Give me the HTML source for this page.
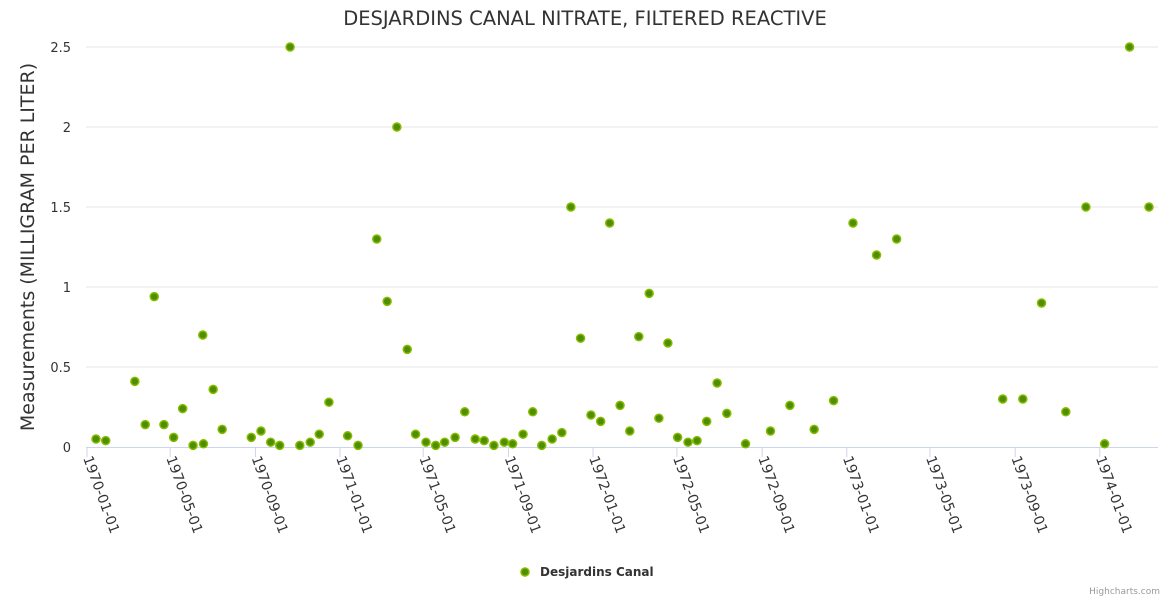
<!DOCTYPE html>
<html><head><meta charset="utf-8"><style>
body{margin:0;background:#fff;}
svg{display:block;font-family:"DejaVu Sans","Liberation Sans",sans-serif;}
</style></head><body>
<svg id="chart" width="1170" height="600" xmlns="http://www.w3.org/2000/svg">
<text x="585" y="25" text-anchor="middle" font-size="19.5" fill="#333">DESJARDINS CANAL NITRATE, FILTERED REACTIVE</text>
<text transform="translate(34,247) rotate(-90)" text-anchor="middle" font-size="19" fill="#333">Measurements (MILLIGRAM PER LITER)</text>
<g id="grid"></g><g id="xaxis"></g><g id="points"></g>
<g>
<circle cx="525" cy="572" r="4" fill="#4d8f00" stroke="#88bb00" stroke-width="1.5"/>
<text x="540" y="576" font-size="12" font-weight="bold" fill="#333">Desjardins Canal</text>
</g>
<text x="1160" y="594" text-anchor="end" font-size="9" fill="#999">Highcharts.com</text>
</svg>
<script>
const yTicks=[0,0.5,1,1.5,2,2.5];
const yTickLabels=["0","0.5","1","1.5","2","2.5"];
const xTickLabels=["1970-01-01","1970-05-01","1970-09-01","1971-01-01","1971-05-01","1971-09-01","1972-01-01","1972-05-01","1972-09-01","1973-01-01","1973-05-01","1973-09-01","1974-01-01"];
// days since 1970-01-01
const sampleDays=[13,27,69,84,97,111,125,138,153,167,168,182,195,237,251,265,278,293,307,322,335,349,376,391,418,433,447,462,474,489,503,516,531,545,560,573,587,602,614,629,643,656,671,685,698,712,727,741,754,769,783,796,811,825,838,852,867,880,894,909,923,950,986,1014,1049,1077,1105,1139,1168,1321,1350,1377,1412,1441,1468,1504,1532];
const values=[0.05,0.04,0.41,0.14,0.94,0.14,0.06,0.24,0.01,0.70,0.02,0.36,0.11,0.06,0.10,0.03,0.01,2.5,0.01,0.03,0.08,0.28,0.07,0.01,1.3,0.91,2.0,0.61,0.08,0.03,0.01,0.03,0.06,0.22,0.05,0.04,0.01,0.03,0.02,0.08,0.22,0.01,0.05,0.09,1.5,0.68,0.20,0.16,1.4,0.26,0.10,0.69,0.96,0.18,0.65,0.06,0.03,0.04,0.16,0.40,0.21,0.02,0.10,0.26,0.11,0.29,1.4,1.2,1.3,0.30,0.30,0.90,0.22,1.5,0.02,2.5,1.5];
const NS="http://www.w3.org/2000/svg";
const X0=87,X1=1158,D1=1545,Y0=447,Y1=47,VMAX=2.5;
const xs=d=>X0+(d/D1)*(X1-X0);
const ys=v=>Y0-(v/VMAX)*(Y0-Y1);
const dayOf=s=>Math.round((Date.parse(s+"T00:00:00Z"))/86400000);
function mk(t,a,p){const e=document.createElementNS(NS,t);for(const k in a)e.setAttribute(k,a[k]);p.appendChild(e);return e;}
const grid=document.getElementById('grid');
yTicks.forEach((v,i)=>{
  if(v>0){const l=mk('line',{x1:X0-1,x2:X1,y1:ys(v),y2:ys(v),stroke:'#e6e6e6','stroke-width':1},grid);
  
  }
  const t=mk('text',{x:71,y:ys(v)+5,'text-anchor':'end','font-size':13,fill:'#333'},grid);
  t.textContent=yTickLabels[i];
  
  
});
const xa=document.getElementById('xaxis');
const ax=mk('line',{x1:X0-1,x2:X1,y1:Y0+0.5,y2:Y0+0.5,stroke:'#ccd6eb','stroke-width':1},xa);


xTickLabels.forEach(s=>{
  const x=xs(dayOf(s));
  const tk=mk('line',{x1:x,x2:x,y1:Y0,y2:Y0+10,stroke:'#ccd6eb','stroke-width':1},xa);
  
  
  const t=mk('text',{transform:`translate(${x-4},${Y0+11}) rotate(70)`,'font-size':14,fill:'#333'},xa);
  t.textContent=s;
  
  
});
const pg=document.getElementById('points');
sampleDays.forEach((d,i)=>{
  const c=mk('circle',{cx:xs(d),cy:ys(values[i]),r:4,fill:'#4d8f00',stroke:'#88bb00','stroke-width':1.5},pg);
  
  
});
</script>
</body></html>
